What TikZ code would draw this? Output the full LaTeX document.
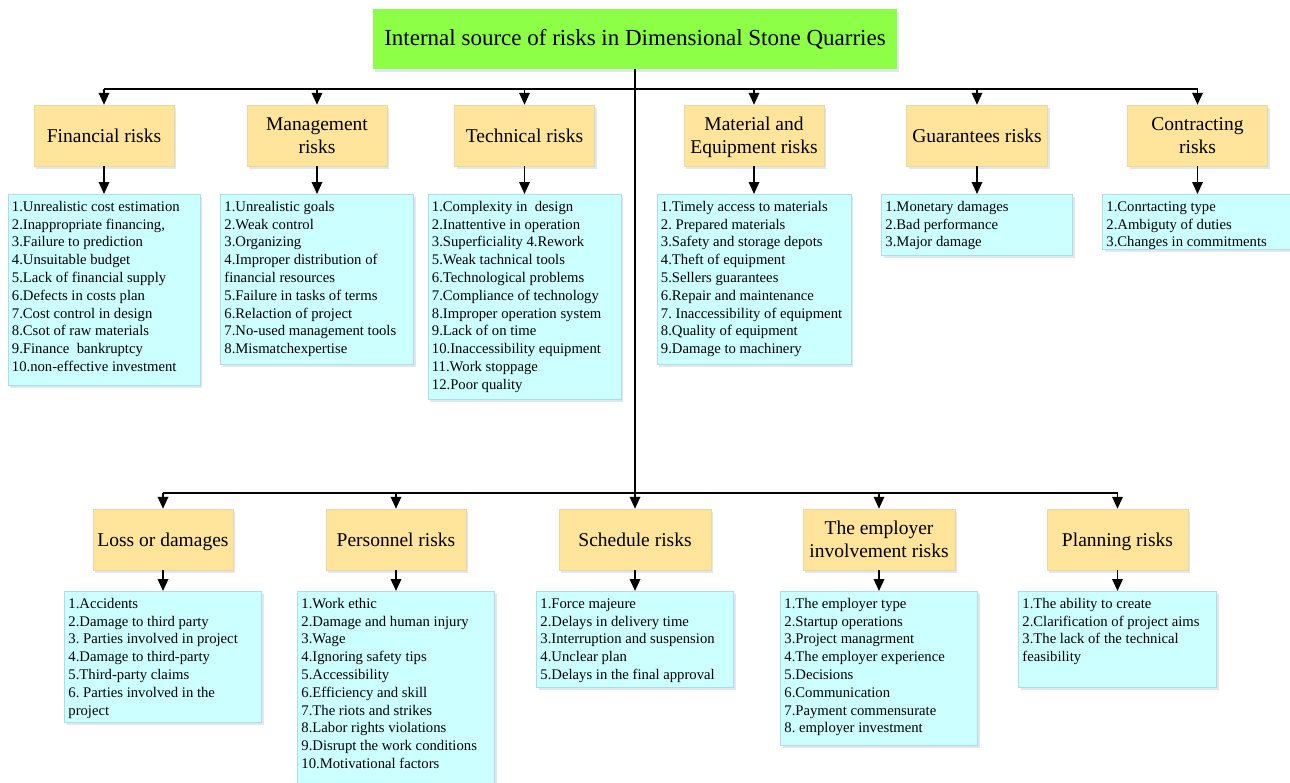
\documentclass[tikz,border=0pt]{standalone}
\usepackage{fontspec}
\setmainfont{Liberation Serif}
\frenchspacing
\usetikzlibrary{arrows.meta,shadows}
\definecolor{titlegreen}{RGB}{140,255,70}
\definecolor{catfill}{RGB}{255,228,156}
\definecolor{catedge}{RGB}{235,215,160}
\definecolor{listfill}{RGB}{204,255,255}
\definecolor{listedge}{RGB}{175,220,232}
\definecolor{shadowcol}{RGB}{170,185,215}
\newcommand{\listfont}{\fontsize{14.7}{17.8}\selectfont}
\newcommand{\catfont}{\fontsize{19.5}{23}\selectfont}
\newcommand{\titlefont}{\fontsize{23}{27}\selectfont}
\newcommand{\twolines}[2]{\rule{0pt}{18pt}#1\\#2\rule[-5pt]{0pt}{5pt}}
\newcommand{\itemtext}[2]{%
  \node[anchor=base west, inner sep=0pt, xshift=4pt, yshift=-17.3pt] (#1txt) at (#1.north west)
    {\parbox[t]{300pt}{\listfont #2}};}
\begin{document}
\begin{tikzpicture}[x=1pt,y=-1pt,
  boxshadow/.style={drop shadow={shadow xshift=2pt,shadow yshift=-3pt,fill=shadowcol,opacity=0.35}},
  titlebox/.style={fill=titlegreen, draw=none, boxshadow, minimum width=524pt, minimum height=60pt, inner sep=0pt, font=\titlefont},
  catboxtwo/.style={fill=catfill, draw=catedge, line width=0.5pt, boxshadow, minimum height=61pt, inner sep=0pt, align=center, font=\catfont},
  catbox/.style={catboxtwo, text height=14pt, text depth=0pt},
  listbox/.style={fill=listfill, draw=listedge, line width=0.6pt, boxshadow, anchor=north, inner sep=0pt},
  conn/.style={line width=1.8pt, black},
  arr/.style={conn, -{Triangle[length=12pt,width=10.5pt]}}]
\useasboundingbox (0,0) rectangle (1290,782);

% title
\node[titlebox] (title) at (635,39) {Internal source of risks in Dimensional Stone Quarries};

% top categories
\node[catbox, minimum width=140pt] (fin) at (104,135.5) {Financial risks};
\node[catboxtwo, minimum width=140pt] (man) at (317,135.5) {\twolines{Management}{risks}};
\node[catbox, minimum width=140pt] (tec) at (524.5,135.5) {Technical risks};
\node[catboxtwo, minimum width=140pt] (mat) at (754,135.5) {\twolines{Material and}{Equipment risks}};
\node[catbox, minimum width=141pt] (gua) at (977,135.5) {Guarantees risks};
\node[catboxtwo, minimum width=140pt] (con) at (1197.5,135.5) {\twolines{Contracting}{risks}};

% bottom categories
\node[catbox, minimum width=140pt] (los) at (163,539.5) {Loss or damages};
\node[catbox, minimum width=140pt] (per) at (396,539.5) {Personnel risks};
\node[catbox, minimum width=152pt] (sch) at (635,539.5) {Schedule risks};
\node[catboxtwo, minimum width=152pt] (emp) at (879,539.5) {\twolines{The employer}{involvement risks}};
\node[catbox, minimum width=141pt] (pla) at (1117.5,539.5) {Planning risks};

% lists (top row)
\node[listbox, minimum width=192pt, minimum height=191pt] (finl) at (104,194) {};
\node[listbox, minimum width=193pt, minimum height=170pt] (manl) at (317,194) {};
\node[listbox, minimum width=193pt, minimum height=205pt] (tecl) at (524.5,194) {};
\node[listbox, minimum width=194pt, minimum height=170pt] (matl) at (754,194) {};
\node[listbox, minimum width=191pt, minimum height=61pt] (gual) at (977,194) {};
\node[listbox, minimum width=190pt, minimum height=55pt] (conl) at (1197.5,194) {};
% lists (bottom row)
\node[listbox, minimum width=197pt, minimum height=131pt] (losl) at (163,591) {};
\node[listbox, minimum width=197pt, minimum height=215pt] (perl) at (396,591) {};
\node[listbox, minimum width=197pt, minimum height=96pt] (schl) at (635,591) {};
\node[listbox, minimum width=197pt, minimum height=154pt] (empl) at (879,591) {};
\node[listbox, minimum width=198pt, minimum height=96pt] (plal) at (1117.5,591) {};

\itemtext{finl}{1.Unrealistic cost estimation\\2.Inappropriate financing,\\3.Failure to prediction\\4.Unsuitable budget\\5.Lack of financial supply\\6.Defects in costs plan\\7.Cost control in design\\8.Csot of raw materials\\9.Finance\ \ bankruptcy\\10.non-effective investment}
\itemtext{manl}{1.Unrealistic goals\\2.Weak control\\3.Organizing\\4.Improper distribution of\\financial resources\\5.Failure in tasks of terms\\6.Relaction of project\\7.No-used management tools\\8.Mismatchexpertise}
\itemtext{tecl}{1.Complexity in\ \ design\\2.Inattentive in operation\\3.Superficiality 4.Rework\\5.Weak tachnical tools\\6.Technological problems\\7.Compliance of technology\\8.Improper operation system\\9.Lack of on time\\10.Inaccessibility equipment\\11.Work stoppage\\12.Poor quality}
\itemtext{matl}{1.Timely access to materials\\2. Prepared materials\\3.Safety and storage depots\\4.Theft of equipment\\5.Sellers guarantees\\6.Repair and maintenance\\7. Inaccessibility of equipment\\8.Quality of equipment\\9.Damage to machinery}
\itemtext{gual}{1.Monetary damages\\2.Bad performance\\3.Major damage}
\itemtext{conl}{1.Conrtacting type\\2.Ambiguty of duties\\3.Changes in commitments}
\itemtext{losl}{1.Accidents\\2.Damage to third party\\3. Parties involved in project\\4.Damage to third-party\\5.Third-party claims\\6. Parties involved in the\\project}
\itemtext{perl}{1.Work ethic\\2.Damage and human injury\\3.Wage\\4.Ignoring safety tips\\5.Accessibility\\6.Efficiency and skill\\7.The riots and strikes\\8.Labor rights violations\\9.Disrupt the work conditions\\10.Motivational factors}
\itemtext{schl}{1.Force majeure\\2.Delays in delivery time\\3.Interruption and suspension\\4.Unclear plan\\5.Delays in the final approval}
\itemtext{empl}{1.The employer type\\2.Startup operations\\3.Project managrment\\4.The employer experience\\5.Decisions\\6.Communication\\7.Payment commensurate\\8. employer investment}
\itemtext{plal}{1.The ability to create\\2.Clarification of project aims\\3.The lack of the technical\\feasibility}

% buses
\coordinate (busA) at (635,89);
\coordinate (busB) at (635,493);
\draw[conn] (title.south) -- (busB);
\draw[conn] (fin.north |- busA) -- (con.north |- busA);
\draw[conn] (los.north |- busB) -- (pla.north |- busB);

% arrows from buses to categories
\foreach \c in {fin,man,tec,mat,gua,con}{\draw[arr] (\c.north |- busA) -- (\c.north);}
\foreach \c in {los,per,sch,emp,pla}{\draw[arr] (\c.north |- busB) -- (\c.north);}
% arrows from categories to lists
\foreach \c in {fin,man,tec,mat,gua,con,los,per,sch,emp,pla}{\draw[arr] (\c.south) -- (\c l.north);}
\end{tikzpicture}
\end{document}
